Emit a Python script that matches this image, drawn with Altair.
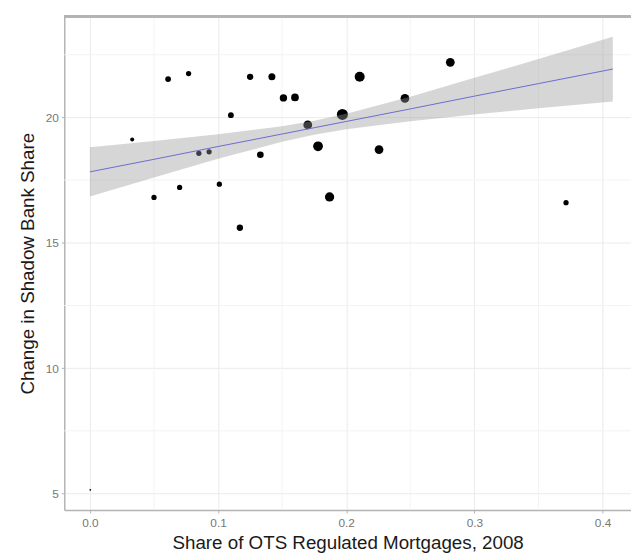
import altair as alt
import pandas as pd

# --- data ---
share_ots = [0.0003, 0.033, 0.050, 0.061, 0.070, 0.077, 0.085, 0.093, 0.101, 0.110,
             0.117, 0.125, 0.133, 0.142, 0.151, 0.160, 0.170, 0.178, 0.187, 0.197,
             0.2105, 0.2256, 0.2458, 0.2812, 0.3715]
change_shadow = [5.15, 19.12, 16.81, 21.53, 17.21, 21.75, 18.57, 18.63, 17.34, 20.09,
                 15.60, 21.62, 18.51, 21.62, 20.78, 20.80, 19.70, 18.85, 16.83, 20.12,
                 21.62, 18.72, 20.76, 22.20, 16.60]
weights = [1, 5.3, 9, 11, 9, 9, 9, 9, 9, 11,
           13, 13, 14.4, 16, 17.6, 19.4, 25, 31, 28, 40,
           32.5, 25, 25, 25, 9]

fit_x = [0.0, 0.05, 0.10, 0.15, 0.175, 0.20, 0.25, 0.30, 0.35, 0.408]
fit_y = [17.83, 18.33, 18.84, 19.34, 19.59, 19.84, 20.34, 20.85, 21.35, 21.93]
fit_lo = [16.85, 17.60, 18.35, 19.03, 19.31, 19.53, 19.85, 20.12, 20.37, 20.64]
fit_hi = [18.81, 19.06, 19.33, 19.65, 19.87, 20.15, 20.83, 21.58, 22.33, 23.22]

minor_x = [0.05, 0.15, 0.25, 0.35]
minor_y = [7.5, 12.5, 17.5, 22.5]
major_x = [0.0, 0.1, 0.2, 0.3, 0.4]
major_y = [5, 10, 15, 20]

X_TITLE = "Share of OTS Regulated Mortgages, 2008"
Y_TITLE = "Change in Shadow Bank Share"

pts = pd.DataFrame({"share": share_ots, "change": change_shadow, "weight": weights})
fit = pd.DataFrame({"share": fit_x, "change": fit_y, "lo": fit_lo, "hi": fit_hi})
mx = pd.DataFrame({"share": minor_x})
my = pd.DataFrame({"change": minor_y})

xscale = alt.Scale(domain=[-0.0200, 0.4222], nice=False, zero=False)
yscale = alt.Scale(domain=[4.34, 24.03], nice=False, zero=False)
xaxis = alt.Axis(title=X_TITLE, values=major_x, format=".1f")
yaxis = alt.Axis(title=Y_TITLE, values=major_y, format="d")


def X(field):
    return alt.X(field, type="quantitative", scale=xscale, axis=xaxis, title=X_TITLE)


def Y(field):
    return alt.Y(field, type="quantitative", scale=yscale, axis=yaxis, title=Y_TITLE)


vminor = alt.Chart(mx).mark_rule(color="#f3f3f3", strokeWidth=1).encode(x=X("share"))
hminor = alt.Chart(my).mark_rule(color="#f3f3f3", strokeWidth=1).encode(y=Y("change"))

points = alt.Chart(pts).mark_circle(color="black", opacity=1).encode(
    x=X("share"),
    y=Y("change"),
    size=alt.Size("weight:Q", scale=alt.Scale(domain=[0, 40], range=[0, 126]), legend=None),
)

band = alt.Chart(fit).mark_area(color="#999999", opacity=0.4).encode(
    x=X("share"), y=Y("lo"), y2="hi:Q"
)

line = alt.Chart(fit).mark_line(color="#6b6bcf", strokeWidth=1).encode(
    x=X("share"), y=Y("change")
)

top = alt.Chart(pts).mark_rule(color="#b3b3b3", strokeWidth=1.5).encode(
    x=alt.value(0), x2=alt.value(574), y=alt.value(0)
)

chart = alt.layer(vminor, hminor, points, band, line, top).properties(
    width=574,
    height=500,
    autosize=alt.AutoSizeParams(type="none"),
    padding={"left": 57, "top": 5, "right": 0, "bottom": 42},
).configure_view(stroke=None).configure_axis(
    grid=True,
    gridColor="#ebebeb",
    gridWidth=1,
    domainColor="#b3b3b3",
    domainWidth=1.5,
    tickColor="#b3b3b3",
    tickSize=3,
    labelColor="#777777",
    labelFont="Liberation Sans",
    labelFontSize=12,
    labelPadding=3,
    titleFont="Liberation Sans",
    titleFontSize=19,
    titleFontWeight="normal",
    titleColor="#1a1a1a",
).configure_axisX(titlePadding=5, labelPadding=5).configure_axisY(titlePadding=8)

chart.save("out.html", embed_options={"renderer": "svg", "actions": False})
